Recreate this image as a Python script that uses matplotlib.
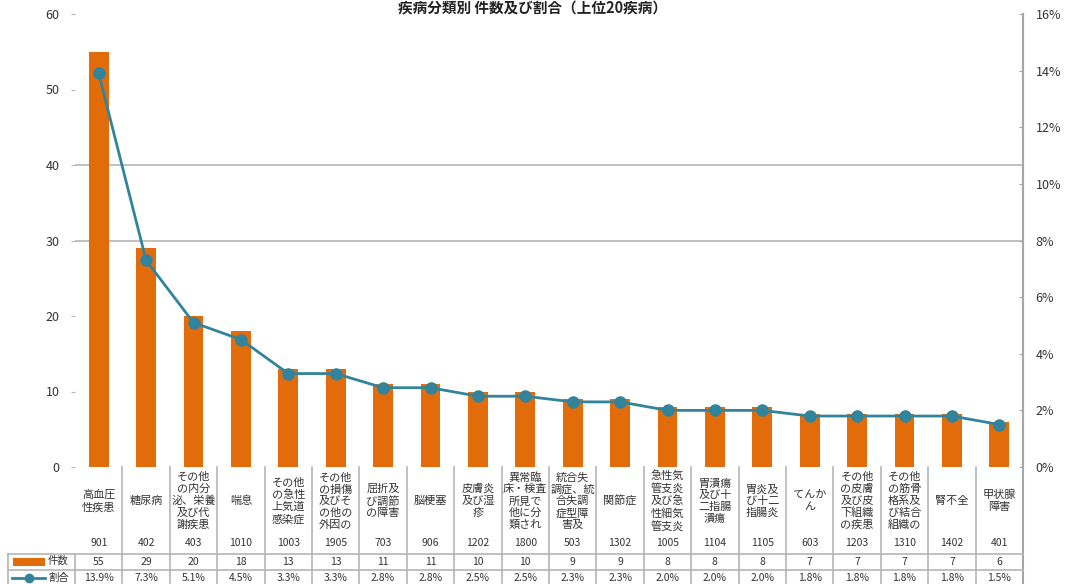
import matplotlib
matplotlib.use("Agg")
import matplotlib.pyplot as plt
from matplotlib.lines import Line2D
from matplotlib.patches import Rectangle
from matplotlib.transforms import blended_transform_factory

plt.rcParams['font.family'] = ['Noto Sans CJK JP', 'DejaVu Sans']

# ---- data ----
codes = ["901", "402", "403", "1010", "1003", "1905", "703", "906", "1202", "1800",
         "503", "1302", "1005", "1104", "1105", "603", "1203", "1310", "1402", "401"]
labels = [
    "高血圧\n性疾患",
    "糖尿病",
    "その他\nの内分\n泌、栄養\n及び代\n謝疾患",
    "喘息",
    "その他\nの急性\n上気道\n感染症",
    "その他\nの損傷\n及びそ\nの他の\n外因の",
    "屈折及\nび調節\nの障害",
    "脳梗塞",
    "皮膚炎\n及び湿\n疹",
    "異常臨\n床・検査\n所見で\n他に分\n類され",
    "統合失\n調症、統\n合失調\n症型障\n害及",
    "関節症",
    "急性気\n管支炎\n及び急\n性細気\n管支炎",
    "胃潰瘍\n及び十\n二指腸\n潰瘍",
    "胃炎及\nび十二\n指腸炎",
    "てんか\nん",
    "その他\nの皮膚\n及び皮\n下組織\nの疾患",
    "その他\nの筋骨\n格系及\nび結合\n組織の",
    "腎不全",
    "甲状腺\n障害",
]
counts = [55, 29, 20, 18, 13, 13, 11, 11, 10, 10, 9, 9, 8, 8, 8, 7, 7, 7, 7, 6]
shares = [13.9, 7.3, 5.1, 4.5, 3.3, 3.3, 2.8, 2.8, 2.5, 2.5,
          2.3, 2.3, 2.0, 2.0, 2.0, 1.8, 1.8, 1.8, 1.8, 1.5]
series_names = ["件数", "割合"]
title = "疾病分類別 件数及び割合（上位20疾病）"

ORANGE = "#E36C0A"
TEAL = "#31849B"
GRID = "#B5B5B5"
TEXT = "#333333"

W, H = 1065, 584
fig = plt.figure(figsize=(W / 100, H / 100), dpi=100)


def fy(py):
    return 1 - py / H


def fx(px):
    return px / W


left, right, top, bottom = 75, 1023, 14, 467
ax = fig.add_axes([fx(left), fy(bottom), fx(right - left), (bottom - top) / H])
ax2 = ax.twinx()

x = list(range(len(counts)))
ax.bar(x, counts, width=0.42, color=ORANGE, zorder=2)
ax.set_xlim(-0.5, len(counts) - 0.5)
ax.set_ylim(0, 60)
ax.set_yticks(range(0, 61, 10))
for v in (30, 40):
    ax.axhline(v, color=GRID, lw=1.2, zorder=1)

ax2.plot(x, shares, color=TEAL, lw=2, marker="o", markersize=8, zorder=3)
ax2.set_ylim(0, 16)
ax2.set_yticks(range(0, 17, 2))
ax2.set_yticklabels([f"{v}%" for v in range(0, 17, 2)])

for a in (ax, ax2):
    for s in a.spines.values():
        s.set_visible(False)
ax2.spines["right"].set_visible(True)
ax2.spines["right"].set_color("#A6A6A6")
ax2.spines["right"].set_linewidth(1.5)

ax.set_xticks([])
ax.tick_params(axis="y", direction="out", length=3, color=GRID, labelsize=9,
               labelcolor=TEXT, pad=8)
ax2.tick_params(axis="y", direction="in", length=3, color="#A6A6A6", labelsize=9,
                labelcolor=TEXT, pad=9)
ax.set_zorder(ax2.get_zorder() - 1)
ax2.patch.set_visible(False)

# ---- category labels and data table ----
tr = blended_transform_factory(ax.transData, fig.transFigure)
ftr = fig.transFigure

for i, (lab, code) in enumerate(zip(labels, codes)):
    ax.text(i, fy(501), lab, transform=tr, ha="center", va="center",
            fontsize=8, color=TEXT, linespacing=1.2, clip_on=False)
    ax.text(i, fy(543), code, transform=tr, ha="center", va="center",
            fontsize=7.5, color=TEXT, clip_on=False)
    ax.text(i, fy(562), str(counts[i]), transform=tr, ha="center", va="center",
            fontsize=7.5, color=TEXT, clip_on=False)
    ax.text(i, fy(578), f"{shares[i]:.1f}%", transform=tr, ha="center", va="center",
            fontsize=7.5, color=TEXT, clip_on=False)

# vertical separators
n = len(counts)
for i in range(n + 1):
    xb = i - 0.5
    if i == n:
        y0, col, lw = top, "#A6A6A6", 1.5
    elif i == 0:
        y0, col, lw = 554, GRID, 1.2
    else:
        y0, col, lw = bottom, GRID, 1.2
    fig.add_artist(Line2D([xb, xb], [fy(y0), fy(H)], transform=tr, color=col, lw=lw))
fig.add_artist(Line2D([fx(8), fx(8)], [fy(554), fy(H)], transform=ftr, color=GRID, lw=1.2))
for yy in (554, 570):
    fig.add_artist(Line2D([fx(8), fx(right)], [fy(yy), fy(yy)], transform=ftr,
                          color=GRID, lw=1.2))

# legend keys inside the table
fig.add_artist(Rectangle((fx(13), fy(566)), fx(32), 8 / H, transform=ftr,
                         facecolor=ORANGE, edgecolor="none"))
fig.text(fx(48), fy(561), series_names[0], fontsize=7.5, color=TEXT, va="center")
fig.add_artist(Line2D([fx(12), fx(28.5), fx(45)], [fy(578)] * 3, transform=ftr,
                      color=TEAL, lw=2, marker="o", markersize=6, markevery=[1]))
fig.text(fx(48), fy(578), series_names[1], fontsize=7.5, color=TEXT, va="center")

# title along the top edge
fig.text(0.5, fy(1), title, ha="center", va="top", fontsize=10.5,
         fontweight="bold", color="#222222")

fig.savefig("out.png", dpi=100)
